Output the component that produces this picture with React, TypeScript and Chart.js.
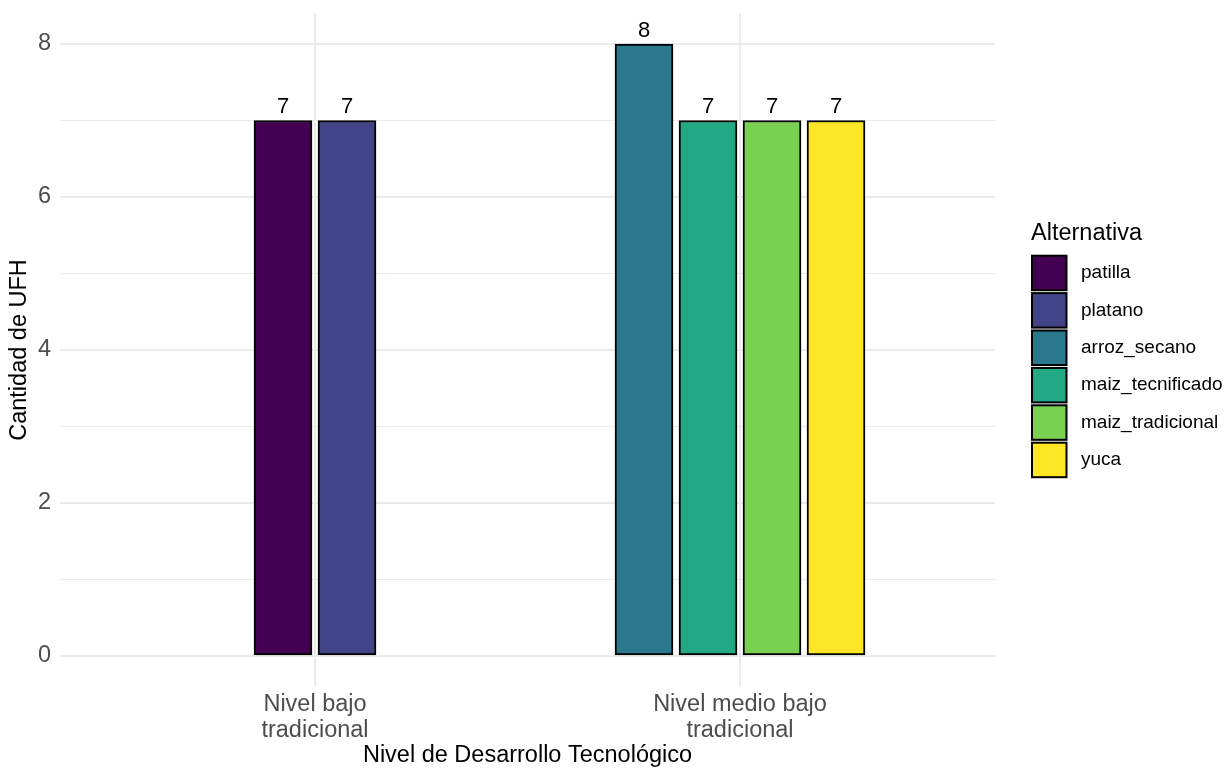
import React, { useEffect, useRef } from 'react';
import { Chart, registerables } from 'chart.js';

Chart.register(...registerables);

// ---- data ----
const categoryPositions = [1, 2];
const categoryLabels = [
  ['Nivel bajo', 'tradicional'],
  ['Nivel medio bajo', 'tradicional'],
];
const seriesNames = ['patilla', 'platano', 'arroz_secano', 'maiz_tecnificado', 'maiz_tradicional', 'yuca'];
const patilla = [7, null];
const platano = [7, null];
const arrozSecano = [null, 8];
const maizTecnificado = [null, 7];
const maizTradicional = [null, 7];
const yuca = [null, 7];
const seriesValues = [patilla, platano, arrozSecano, maizTecnificado, maizTradicional, yuca];
const seriesColors = ['#440154', '#414487', '#2A788E', '#22A884', '#7AD151', '#FDE725'];
const yTicks = [0, 1, 2, 3, 4, 5, 6, 7, 8];
const yTitle = 'Cantidad de UFH';
const xTitle = 'Nivel de Desarrollo Tecnológico';
const legendTitle = 'Alternativa';

const FONT = "'Liberation Sans', Arial, sans-serif";

const valueLabelPlugin = {
  id: 'valueLabels',
  afterDatasetsDraw(chart: any) {
    const ctx = chart.ctx;
    ctx.save();
    ctx.font = `22px ${FONT}`;
    ctx.fillStyle = '#000000';
    ctx.textAlign = 'center';
    ctx.textBaseline = 'alphabetic';
    chart.data.datasets.forEach((ds: any, di: number) => {
      const meta = chart.getDatasetMeta(di);
      meta.data.forEach((el: any, i: number) => {
        const v = ds.data[i] && ds.data[i].y;
        if (v === null || v === undefined) return;
        ctx.fillText(String(v), el.x, el.y - 7.5);
      });
    });
    ctx.restore();
  },
};

const legendPlugin = {
  id: 'customLegend',
  afterDraw(chart: any) {
    const ctx = chart.ctx;
    ctx.save();
    ctx.fillStyle = '#000000';
    ctx.font = `23.5px ${FONT}`;
    ctx.textAlign = 'left';
    ctx.textBaseline = 'alphabetic';
    ctx.fillText(legendTitle, 1031, 239.5);
    const x0 = 1032;
    const size = 34.5;
    const step = 37.4;
    const top0 = 255.7;
    ctx.font = `19px ${FONT}`;
    ctx.textBaseline = 'middle';
    chart.data.datasets.forEach((ds: any, i: number) => {
      const y = top0 + i * step;
      ctx.fillStyle = ds.backgroundColor;
      ctx.fillRect(x0, y, size, size);
      ctx.strokeStyle = '#000000';
      ctx.lineWidth = 2;
      ctx.strokeRect(x0, y, size, size);
      ctx.fillStyle = '#000000';
      ctx.fillText(ds.label, 1081, y + size / 2);
    });
    ctx.restore();
  },
};

export default function App() {
  const canvasRef = useRef<HTMLCanvasElement | null>(null);

  useEffect(() => {
    document.body.style.margin = '0';
    const canvas = canvasRef.current;
    if (!canvas) return;
    const chart = new Chart(canvas, {
      type: 'bar',
      data: {
        datasets: seriesNames.map((name, si) => ({
          label: name,
          data: seriesValues[si].map((v, i) => ({ x: categoryPositions[i], y: v })),
          backgroundColor: seriesColors[si],
          borderColor: '#000000',
          borderWidth: 2,
          borderSkipped: false,
          barThickness: 64,
          maxBarThickness: 58,
          skipNull: true,
        })) as any,
      },
      options: {
        animation: false,
        responsive: false,
        maintainAspectRatio: false,
        layout: { padding: { left: 0, right: 230, top: 13.4, bottom: 0 } },
        plugins: {
          legend: { display: false },
          tooltip: { enabled: false },
        },
        scales: {
          x: {
            type: 'linear',
            min: 0.4,
            max: 2.6,
            offset: false,
            afterBuildTicks: (scale: any) => {
              scale.ticks = categoryPositions.map((v) => ({ value: v }));
            },
            afterFit: (scale: any) => {
              scale.height = 81.4;
              scale.paddingLeft = 0;
              scale.paddingRight = 0;
            },
            border: { display: false },
            grid: {
              offset: false,
              drawTicks: false,
              color: '#ebebeb',
              lineWidth: 2,
            },
            ticks: {
              autoSkip: false,
              maxRotation: 0,
              padding: 5,
              color: '#4d4d4d',
              font: { family: FONT, size: 23.5, lineHeight: 1.09 },
              callback: (v: any) => {
                const idx = categoryPositions.indexOf(Number(v));
                return idx >= 0 ? categoryLabels[idx] : '';
              },
            },
            title: {
              display: true,
              text: xTitle,
              color: '#000000',
              font: { family: FONT, size: 23.5, lineHeight: 1.0 },
              padding: { top: 0, bottom: 1 },
            },
          },
          y: {
            type: 'linear',
            min: -0.4,
            max: 8.4,
            afterBuildTicks: (scale: any) => {
              scale.ticks = yTicks.map((v) => ({ value: v }));
            },
            afterFit: (scale: any) => {
              scale.width = 60;
              scale.paddingTop = 0;
              scale.paddingBottom = 0;
            },
            border: { display: false },
            grid: {
              drawTicks: false,
              color: '#ebebeb',
              lineWidth: (ctx: any) => (ctx.tick && ctx.tick.value % 2 === 0 ? 2 : 1.1),
            },
            ticks: {
              autoSkip: false,
              padding: 9,
              color: '#4d4d4d',
              font: { family: FONT, size: 23.5 },
              callback: (v: any) => (Number(v) % 2 === 0 ? String(v) : ''),
            },
            title: {
              display: true,
              text: yTitle,
              color: '#000000',
              font: { family: FONT, size: 23.5, lineHeight: 1.0 },
              padding: { top: 8, bottom: 0 },
            },
          },
        },
      },
      plugins: [valueLabelPlugin, legendPlugin],
    });
    return () => chart.destroy();
  }, []);

  return (
    <div style={{ width: 1225, height: 768, position: 'relative', background: '#ffffff' }}>
      <canvas ref={canvasRef} width={1225} height={768} style={{ display: 'block' }} />
    </div>
  );
}
